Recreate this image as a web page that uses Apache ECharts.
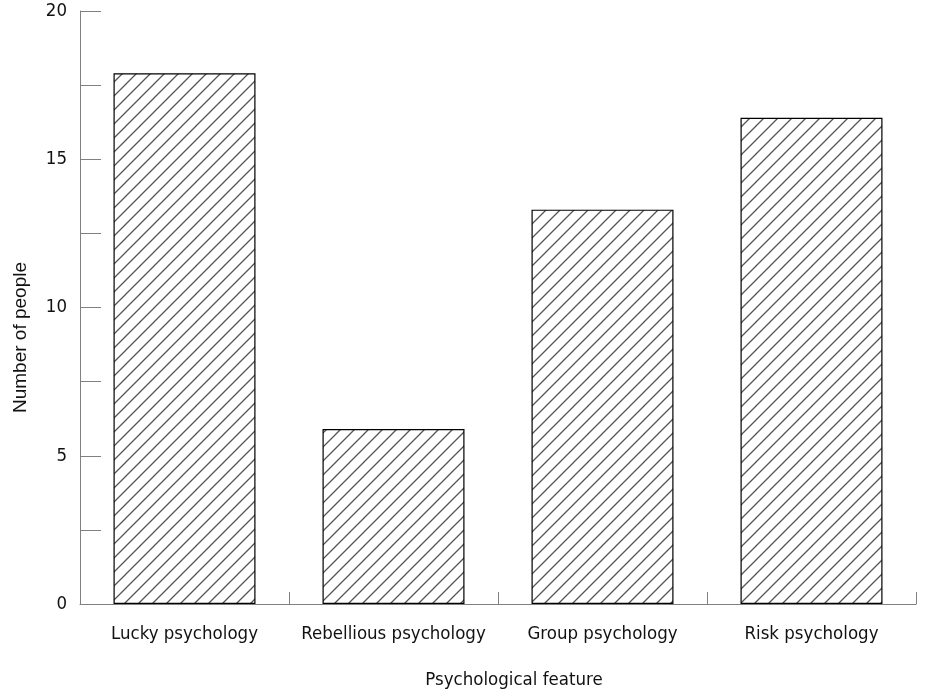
<!DOCTYPE html>
<html><head><meta charset="utf-8">
<script src="https://cdn.jsdelivr.net/npm/echarts@6/dist/echarts.min.js"></script>
<style>html,body{margin:0;padding:0;background:#fff}#c{width:940px;height:695px}</style>
</head><body><div id="c"></div>
<script>
const categories = ['Lucky psychology', 'Rebellious psychology', 'Group psychology', 'Risk psychology'];
const peopleCounts = [17.9, 5.9, 13.3, 16.4];
const yLabeledTicks = [0, 5, 10, 15, 20];

const FONT = '"DejaVu Sans Condensed", Lato, "DejaVu Sans", sans-serif';
const AXIS_GRAY = '#808080';

function hatch() {
  const s = 14, c = document.createElement('canvas');
  c.width = s; c.height = s;
  const g = c.getContext('2d');
  g.fillStyle = '#fff'; g.fillRect(0, 0, s, s);
  g.strokeStyle = '#555'; g.lineWidth = 1.3;
  g.beginPath();
  g.moveTo(-1, s + 1); g.lineTo(s + 1, -1);
  g.moveTo(-1, 1); g.lineTo(1, -1);
  g.moveTo(s - 1, s + 1); g.lineTo(s + 1, s - 1);
  g.stroke();
  return c;
}

const chart = echarts.init(document.getElementById('c'), null, {renderer: 'canvas'});
chart.setOption({
  animation: false,
  backgroundColor: '#fff',
  grid: {left: 80, right: 24, top: 11, bottom: 87},
  xAxis: {
    type: 'category',
    data: categories,
    name: 'Psychological feature',
    nameLocation: 'middle',
    nameGap: 67,
    nameTextStyle: {fontFamily: FONT, fontSize: 18.5, color: '#111', padding: [0, 0, 0, 32]},
    axisLine: {show: true, lineStyle: {color: AXIS_GRAY, width: 1}},
    axisTick: {show: true, inside: true, length: 12, lineStyle: {color: AXIS_GRAY}},
    axisLabel: {fontFamily: FONT, fontSize: 18.5, color: '#111', margin: 21, interval: 0}
  },
  yAxis: {
    type: 'value',
    min: 0, max: 20, interval: 2.5,
    name: 'Number of people',
    nameLocation: 'middle',
    nameGap: 50,
    nameTextStyle: {fontFamily: '"Liberation Sans", Arial, sans-serif', fontSize: 19, color: '#111', padding: [0, 60, 0, 0]},
    axisLine: {show: true, lineStyle: {color: AXIS_GRAY, width: 1}},
    axisTick: {show: true, inside: true, length: 21, lineStyle: {color: AXIS_GRAY}},
    splitLine: {show: false},
    axisLabel: {
      fontFamily: FONT, fontSize: 18.5, color: '#111', margin: 13,
      formatter: v => yLabeledTicks.includes(v) ? String(v) : ''
    }
  },
  series: [{
    type: 'bar',
    data: peopleCounts,
    barWidth: 142,
    itemStyle: {color: {image: hatch(), repeat: 'repeat'}, borderColor: '#000', borderWidth: 1.2}
  }]
});
</script>
</body></html>
